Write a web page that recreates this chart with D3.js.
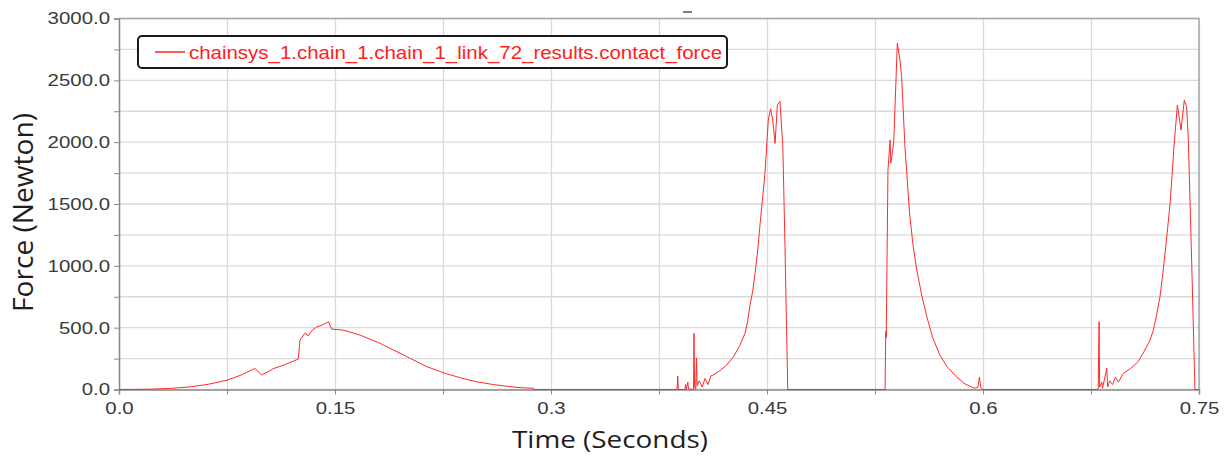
<!DOCTYPE html>
<html lang="en">
<head>
<meta charset="UTF-8">
<title>Contact force</title>
<script src="https://d3js.org/d3.v7.min.js"></script>
<style>
  body { margin: 0; background: #fff; }
  .tick text { font-family: Arial, "Liberation Sans", sans-serif; font-size: 17px; fill: #3a3a3a; }
  .axis-title { font-family: "Open Sans", sans-serif; fill: #1e1e1e; }
</style>
</head>
<body>
<svg id="chart" width="1226" height="459"></svg>
<script>
// series: chainsys_1.chain_1.chain_1_link_72_results.contact_force
var seriesName = "chainsys_1.chain_1.chain_1_link_72_results.contact_force";

var time = [
  0, 0.02, 0.035, 0.05, 0.062, 0.075, 0.085, 0.0944, 0.099, 0.103, 0.107, 0.115, 0.1245,
  0.1257, 0.129, 0.1315, 0.1335, 0.137, 0.141, 0.1455, 0.1477, 0.156, 0.1674, 0.18, 0.1905,
  0.2025, 0.2137, 0.2264, 0.238, 0.248, 0.26, 0.2715, 0.28, 0.2877, 0.288,
  0.3875, 0.388, 0.3885, 0.393, 0.3935, 0.394, 0.395, 0.3955, 0.399, 0.3993, 0.3997, 0.4005,
  0.401, 0.4015, 0.403, 0.405, 0.407, 0.409, 0.411, 0.4127, 0.417, 0.422, 0.427, 0.4313,
  0.4347, 0.4365, 0.438, 0.44, 0.4417, 0.4435, 0.445, 0.4468, 0.4486, 0.4509, 0.4525, 0.454,
  0.4556, 0.4572, 0.459, 0.461, 0.4625, 0.4644,
  0.532, 0.5322, 0.5325, 0.5328, 0.534, 0.5355, 0.536, 0.538, 0.5405, 0.5425, 0.5435, 0.5458,
  0.549, 0.5515, 0.554, 0.5575, 0.561, 0.565, 0.570, 0.575, 0.5815, 0.5875, 0.594, 0.5965,
  0.5975, 0.5985, 0.600,
  0.680, 0.6806, 0.681, 0.6825, 0.683, 0.686, 0.6865, 0.688, 0.690, 0.692, 0.694, 0.6975,
  0.7025, 0.7078, 0.712, 0.716, 0.7183, 0.7205, 0.7229, 0.7246, 0.7264, 0.7282, 0.7299,
  0.7313, 0.7326, 0.735, 0.7375, 0.7398, 0.7414, 0.7426, 0.745, 0.7472, 0.75
];
var force = [
  0, 2, 8, 22, 42, 75, 118, 170, 118, 140, 168, 200, 246,
  400, 455, 435, 470, 505, 520, 548, 488, 480, 440, 380, 320,
  250, 185, 131, 92, 63, 40, 23, 14, 10, 0,
  0, 110, 0, 0, 40, 0, 60, 5, 0, 454, 20, 0,
  255, 30, 70, 20, 90, 40, 110, 117, 150, 198, 270, 360,
  454, 545, 669, 790, 939, 1120, 1316, 1530, 1748, 2179, 2270, 2180,
  1990, 2300, 2330, 1963, 1154, 0,
  0, 200, 470, 420, 1775, 2017, 1830, 2000, 2800, 2650, 2530, 1963,
  1424, 1160, 966, 760, 589, 420, 279, 185, 103, 45, 10, 20,
  99, 15, 0,
  0, 548, 20, 60, 10, 172, 20, 70, 40, 100, 60, 131,
  170, 225, 310, 400, 481, 600, 750, 910, 1101, 1300, 1505,
  1730, 1963, 2300, 2098, 2340, 2286, 2017, 993, 0, 0
];

var xTicks = d3.range(0, 0.7501, 0.075);
var xLabels = ["0.0", "", "0.15", "", "0.3", "", "0.45", "", "0.6", "", "0.75"];
var yTicks = d3.range(0, 3001, 250);

var svg = d3.select("#chart");
var plotLeft = 119, plotRight = 1199, plotTop = 18.5, plotBottom = 389.5;

var x = d3.scaleLinear().domain([0, 0.75]).range([plotLeft, plotRight]);
var y = d3.scaleLinear().domain([0, 3000]).range([plotBottom, plotTop]);

// grid
var grid = svg.append("g");
grid.selectAll("line.gx").data(xTicks).enter().append("line")
  .attr("x1", function(d) { return Math.round(x(d)) + 0.5; })
  .attr("x2", function(d) { return Math.round(x(d)) + 0.5; })
  .attr("y1", plotTop).attr("y2", plotBottom)
  .attr("stroke", "#dadada").attr("stroke-width", 1.3);
grid.selectAll("line.gy").data(yTicks).enter().append("line")
  .attr("x1", plotLeft).attr("x2", plotRight)
  .attr("y1", function(d) { return y(d); })
  .attr("y2", function(d) { return y(d); })
  .attr("stroke", "#dadada").attr("stroke-width", 1.3);

// frame (top/right)
svg.append("path")
  .attr("d", "M" + plotLeft + "," + plotTop + "H" + plotRight + "V" + plotBottom)
  .attr("fill", "none").attr("stroke", "#a8a8a8").attr("stroke-width", 1.5);

// axes
var yAxis = d3.axisLeft(y).tickValues(yTicks).tickSize(5).tickPadding(4)
  .tickFormat(function(d) { return d % 500 === 0 ? d3.format(".1f")(d) : ""; });
var gy = svg.append("g").attr("transform", "translate(" + plotLeft + ",0)").call(yAxis);

var xAxis = d3.axisBottom(x).tickValues(xTicks).tickSize(5).tickPadding(7)
  .tickFormat(function(d, i) { return xLabels[i]; });
var gx = svg.append("g").attr("transform", "translate(0," + plotBottom + ")").call(xAxis);

[gx, gy].forEach(function(g) {
  g.attr("font-size", null).attr("font-family", null);
  g.select(".domain").attr("stroke", "#8a8a8a").attr("stroke-width", 1.5);
  g.selectAll(".tick line").attr("stroke", "#8a8a8a");
  // labels in the picture are drawn wider than plain Arial
  g.selectAll(".tick text").each(function() {
    var w = this.getComputedTextLength();
    if (w > 0) d3.select(this).attr("textLength", w * 1.2).attr("lengthAdjust", "spacingAndGlyphs");
  });
});

// data line
var line = d3.line()
  .x(function(d, i) { return x(time[i]); })
  .y(function(d) { return y(d); });
svg.append("path")
  .datum(force)
  .attr("d", line)
  .attr("fill", "none")
  .attr("stroke", "#ff2a2a")
  .attr("stroke-width", 1)
  .attr("stroke-linejoin", "round");

// axis titles
svg.append("text").attr("class", "axis-title")
  .attr("x", 610).attr("y", 448).attr("text-anchor", "middle")
  .attr("font-size", 24)
  .attr("textLength", 196).attr("lengthAdjust", "spacingAndGlyphs")
  .text("Time (Seconds)");
svg.append("text").attr("class", "axis-title")
  .attr("transform", "translate(33,212.5) rotate(-90)")
  .attr("text-anchor", "middle")
  .attr("font-size", 27)
  .attr("textLength", 199).attr("lengthAdjust", "spacingAndGlyphs")
  .text("Force (Newton)");

// legend
var legend = svg.append("g");
legend.append("rect")
  .attr("x", 138).attr("y", 36).attr("width", 589).attr("height", 32)
  .attr("rx", 4).attr("fill", "#fff").attr("stroke", "#1a1a1a").attr("stroke-width", 2);
legend.append("line")
  .attr("x1", 155).attr("x2", 185).attr("y1", 52).attr("y2", 52)
  .attr("stroke", "#ff2020").attr("stroke-width", 1.5);
legend.append("text")
  .attr("x", 189).attr("y", 58.5)
  .attr("font-family", "Arial, 'Liberation Sans', sans-serif")
  .attr("font-size", 17.5).attr("fill", "#ff2020")
  .attr("textLength", 533).attr("lengthAdjust", "spacingAndGlyphs")
  .text(seriesName);

// small mark above the frame
svg.append("line")
  .attr("x1", 683).attr("x2", 692).attr("y1", 12).attr("y2", 12)
  .attr("stroke", "#555").attr("stroke-width", 1.5);
</script>
</body>
</html>
